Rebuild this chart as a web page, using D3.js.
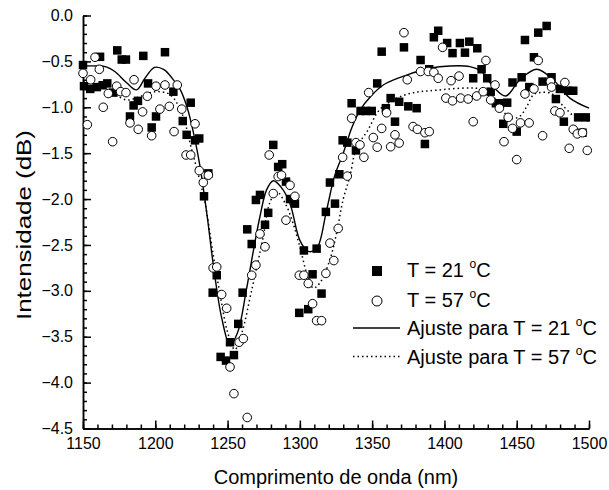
<!DOCTYPE html>
<html>
<head>
<meta charset="utf-8">
<script src="https://cdn.jsdelivr.net/npm/d3@7"></script>
<style>
  body { margin: 0; background: #fff; }
  svg { display: block; font-family: "Liberation Sans", Arial, sans-serif; }
  .axis path, .axis line { stroke: #000; stroke-width: 1.5; }
  .axis text { font-size: 16px; fill: #000; }
</style>
</head>
<body>
<svg id="chart" width="609" height="490"></svg>
<script>
// measured points, T = 21 C (squares)
const wave21 = [1150, 1150.7, 1155, 1159.5, 1161.8, 1163.6, 1166.8, 1171, 1173.7, 1176.8, 1179.7, 1182.5, 1185, 1188, 1191.7, 1195, 1197.5, 1200.5, 1206.7, 1212.5, 1219, 1221.7, 1224.5, 1227.5, 1230.4, 1233.7, 1236.7, 1239.7, 1242.5, 1245.2, 1248.9, 1251.7, 1254.4, 1257.4, 1260.4, 1263.6, 1266.7, 1269.6, 1272.4, 1275.9, 1278.1, 1281.6, 1285, 1287.8, 1290.4, 1293.2, 1296.6, 1299.6, 1302.8, 1305.8, 1308.8, 1311.6, 1315, 1318, 1320.8, 1324.3, 1327.3, 1329.6, 1332.8, 1335.8, 1338.8, 1342, 1345.7, 1349.7, 1353.5, 1356.6, 1359.5, 1362.8, 1365.8, 1368.7, 1372, 1375, 1380.8, 1383.5, 1386.5, 1389.5, 1392.7, 1395.7, 1401.9, 1405.6, 1410.7, 1414.2, 1417.2, 1419.9, 1422.7, 1425.7, 1429.6, 1432, 1435.6, 1438.4, 1440.7, 1443.4, 1447.1, 1450, 1453.4, 1455.7, 1458.7, 1461.9, 1464.9, 1467.9, 1470.7, 1474.1, 1477.1, 1479.9, 1482.6, 1485.6, 1489.1, 1492.5, 1495.5, 1497.8];
const int21 = [-0.54, -0.77, -0.80, -0.78, -0.45, -0.76, -0.74, -0.84, -0.38, -0.48, -0.48, -1.10, -0.98, -0.93, -0.44, -0.74, -1.22, -1.10, -0.40, -0.83, -1.15, -1.30, -0.95, -1.36, -1.34, -1.97, -1.72, -3.02, -2.83, -3.72, -3.76, -3.56, -3.70, -3.36, -3.02, -2.33, -2.49, -2.01, -1.955, -2.28, -2.15, -1.41, -1.65, -1.62, -1.81, -2.0, -2.05, -3.24, -2.56, -3.20, -2.82, -2.54, -3.03, -2.14, -1.82, -2.05, -1.73, -1.36, -1.385, -0.956, -1.47, -1.04, -1.04, -1.04, -0.74, -0.394, -1.01, -0.90, -1.157, -0.94, -0.347, -0.99, -1.01, -0.485, -1.40, -0.586, -0.237, -0.166, -0.30, -0.41, -0.30, -0.405, -0.285, -0.684, -0.357, -0.586, -0.684, -0.83, -0.956, -0.956, -1.18, -0.95, -0.73, -1.265, -0.673, -0.267, -0.78, -0.455, -0.187, -0.72, -0.114, -0.673, -0.91, -0.80, -1.157, -0.82, -0.82, -1.11, -1.277, -1.11];

// measured points, T = 57 C (circles)
const wave57 = [1150, 1153, 1155.3, 1158.3, 1161.3, 1164, 1167.5, 1170.5, 1173.3, 1176, 1179.7, 1182.5, 1185.3, 1188.2, 1191.2, 1194.5, 1197.5, 1200.5, 1203.2, 1206.7, 1209.7, 1213, 1215.2, 1218.3, 1221.3, 1224.5, 1227.5, 1230.4, 1233.2, 1236.7, 1240, 1242.5, 1245.9, 1249.4, 1251.7, 1254.4, 1258, 1260.9, 1263.6, 1266.7, 1269.6, 1272.4, 1275.9, 1278.8, 1281.6, 1285, 1287.3, 1290.4, 1293.2, 1296.6, 1299.6, 1302.8, 1305.8, 1308.8, 1311.6, 1315, 1318, 1320.8, 1323.5, 1326.5, 1329.6, 1332.8, 1335.8, 1338.8, 1341.6, 1344.3, 1347.6, 1350.8, 1353.5, 1356.6, 1360, 1362.8, 1365.8, 1368.7, 1372, 1374.3, 1378.3, 1381.3, 1383.5, 1386.5, 1388.8, 1389.5, 1392.7, 1395.7, 1398.7, 1401, 1404.6, 1405.6, 1410.1, 1411.2, 1416.4, 1419.9, 1422.3, 1426.8, 1428.7, 1432, 1435, 1438, 1441.2, 1444.1, 1447.1, 1450, 1452.6, 1455.7, 1458.6, 1461.9, 1464.9, 1467.9, 1473.3, 1474.1, 1476.4, 1479.9, 1483.3, 1486.3, 1489.1, 1491.9, 1495.5, 1498.8];
const int57 = [-0.63, -1.19, -0.70, -0.455, -0.586, -1.0, -0.85, -1.375, -0.77, -0.83, -0.84, -1.17, -0.70, -1.24, -1.05, -0.88, -1.31, -0.77, -1.02, -0.757, -0.99, -1.265, -0.757, -1.02, -1.52, -1.52, -1.18, -1.69, -1.82, -1.74, -2.75, -2.74, -3.04, -3.19, -3.83, -4.12, -3.56, -3.52, -4.38, -2.83, -2.72, -2.38, -2.52, -1.52, -1.94, -1.755, -1.74, -2.23, -1.85, -1.97, -2.83, -2.83, -2.92, -3.14, -3.325, -3.325, -2.81, -2.48, -2.67, -2.32, -1.545, -1.75, -1.12, -1.385, -1.41, -1.545, -0.84, -1.33, -1.435, -1.23, -1.06, -1.43, -1.30, -1.39, -0.187, -0.70, -1.21, -1.24, -0.61, -1.277, -0.61, -1.265, -0.62, -0.684, -0.347, -0.90, -0.71, -0.93, -0.66, -0.90, -0.91, -1.157, -0.877, -0.83, -0.49, -0.92, -0.757, -1.01, -1.375, -1.11, -1.23, -1.57, -1.17, -0.855, -1.17, -0.80, -0.49, -1.31, -0.72, -0.78, -1.04, -1.06, -0.73, -1.447, -1.24, -1.29, -1.277, -1.47];

// fitted curves
const fitWave21 = [1150, 1160, 1166, 1172, 1180, 1187, 1193, 1199.5, 1206, 1212, 1217, 1222, 1227, 1231, 1236, 1240, 1246, 1251.7, 1257, 1263, 1268, 1272.4, 1277, 1281.6, 1287, 1293.2, 1300, 1305.8, 1311.6, 1318.5, 1324, 1330, 1336, 1341.6, 1348.5, 1357.7, 1373.8, 1390, 1403.8, 1417.6, 1425.7, 1433.7, 1442.5, 1452.2, 1463.8, 1475.2, 1486.8, 1500];
const fitInt21 = [-0.55, -0.55, -0.56, -0.61, -0.73, -0.81, -0.68, -0.565, -0.59, -0.69, -0.80, -1.0, -1.32, -1.65, -2.2, -2.70, -3.30, -3.59, -3.45, -2.99, -2.55, -2.19, -1.90, -1.80, -1.87, -2.05, -2.45, -2.57, -2.54, -2.12, -1.75, -1.50, -1.22, -1.03, -0.89, -0.757, -0.65, -0.575, -0.55, -0.557, -0.61, -0.775, -0.877, -0.70, -0.586, -0.70, -0.90, -1.01];
const fitWave57 = [1150, 1165, 1180, 1190, 1200, 1210, 1218, 1225, 1230, 1234.4, 1240, 1244.7, 1250, 1255, 1260, 1266.7, 1274.7, 1279, 1284, 1290, 1295, 1300, 1305, 1309.3, 1314, 1320.8, 1325.4, 1330, 1334.6, 1339, 1347, 1355, 1364.6, 1376, 1390, 1430, 1438, 1446, 1452, 1457, 1461.4, 1466, 1474, 1482.4, 1491.6, 1500];
const fitInt57 = [-0.72, -0.78, -0.92, -0.88, -0.83, -0.86, -1.05, -1.45, -1.75, -2.04, -2.6, -3.03, -3.45, -3.64, -3.45, -2.99, -2.41, -2.05, -1.92, -2.05, -2.25, -2.52, -2.82, -2.97, -2.91, -2.66, -2.37, -2.0, -1.755, -1.45, -1.25, -1.03, -0.92, -0.85, -0.82, -0.82, -0.99, -1.12, -1.10, -0.99, -0.866, -0.84, -0.85, -0.99, -1.12, -1.15];

const legendLabels = ['T = 21 ', 'T = 57 ', 'Ajuste para T = 21 ', 'Ajuste para T = 57 '];

const svg = d3.select('#chart');
const plotLeft = 83, plotRight = 589, plotTop = 15.5, plotBottom = 428.5;

const x = d3.scaleLinear().domain([1150, 1500]).range([plotLeft, plotRight]);
const y = d3.scaleLinear().domain([-4.5, 0]).range([plotBottom, plotTop]);

// minor ticks first, majors on top
svg.append('g').attr('class', 'axis')
  .attr('transform', `translate(0,${plotBottom})`)
  .call(d3.axisBottom(x).tickValues(d3.range(1150, 1501, 10)).tickSize(-4).tickSizeOuter(0).tickFormat(''));
svg.append('g').attr('class', 'axis')
  .attr('transform', `translate(0,${plotBottom})`)
  .call(d3.axisBottom(x).tickValues(d3.range(1150, 1501, 50)).tickSize(-8).tickSizeOuter(0).tickPadding(9).tickFormat(d3.format('d')));

svg.append('g').attr('class', 'axis')
  .attr('transform', `translate(${plotLeft},0)`)
  .call(d3.axisLeft(y).tickValues(d3.range(-45, 1, 1).map(d => d / 10)).tickSize(-4).tickSizeOuter(0).tickFormat(''));
svg.append('g').attr('class', 'axis')
  .attr('transform', `translate(${plotLeft},0)`)
  .call(d3.axisLeft(y).tickValues(d3.range(-9, 1, 1).map(d => d / 2)).tickSize(-8).tickSizeOuter(0).tickPadding(10).tickFormat(d3.format('.1f')));

// fits
const line = (xs, ys) => d3.line().curve(d3.curveCatmullRom.alpha(0.5))
  .x((d, i) => x(xs[i])).y((d, i) => y(ys[i]))(xs);

svg.append('path').attr('d', line(fitWave57, fitInt57))
  .attr('fill', 'none').attr('stroke', '#000').attr('stroke-width', 1.5)
  .attr('stroke-dasharray', '1.5,3');
svg.append('path').attr('d', line(fitWave21, fitInt21))
  .attr('fill', 'none').attr('stroke', '#000').attr('stroke-width', 1.4);

// scatter
const sq = 8.5;
svg.append('g').selectAll('rect').data(wave21).join('rect')
  .attr('x', (d) => x(d) - sq / 2)
  .attr('y', (d, i) => y(int21[i]) - sq / 2)
  .attr('width', sq).attr('height', sq).attr('fill', '#000');

svg.append('g').selectAll('circle').data(wave57).join('circle')
  .attr('cx', (d) => x(d))
  .attr('cy', (d, i) => y(int57[i]))
  .attr('r', 4.3).attr('fill', '#fff').attr('stroke', '#000').attr('stroke-width', 1);

// axis titles
svg.append('text').attr('x', (plotLeft + plotRight) / 2).attr('y', 484)
  .attr('text-anchor', 'middle').attr('font-size', 20).text('Comprimento de onda (nm)');
// the y title in the figure is drawn stretched along its length
svg.append('text').attr('transform', `translate(31,225) rotate(-90)`)
  .attr('text-anchor', 'middle').attr('font-size', 20)
  .attr('textLength', 190).attr('lengthAdjust', 'spacingAndGlyphs')
  .text('Intensidade (dB)');

// legend
const legend = svg.append('g');
const rowY = [277, 306.5, 335, 363.5];
legend.append('rect').attr('x', 372).attr('y', rowY[0] - 11).attr('width', 10).attr('height', 10).attr('fill', '#000');
legend.append('circle').attr('cx', 377).attr('cy', rowY[1] - 5.5).attr('r', 5)
  .attr('fill', '#fff').attr('stroke', '#000').attr('stroke-width', 1);
legend.append('line').attr('x1', 353).attr('x2', 400).attr('y1', rowY[2] - 7).attr('y2', rowY[2] - 7)
  .attr('stroke', '#000').attr('stroke-width', 1.4);
legend.append('line').attr('x1', 353).attr('x2', 400).attr('y1', rowY[3] - 7).attr('y2', rowY[3] - 7)
  .attr('stroke', '#000').attr('stroke-width', 1.5).attr('stroke-dasharray', '1.5,3');

legendLabels.forEach((lab, i) => {
  const t = legend.append('text').attr('x', 407).attr('y', rowY[i]).attr('font-size', 20);
  t.append('tspan').text(lab);
  t.append('tspan').attr('font-size', 12).attr('dy', -9).text('o');
  t.append('tspan').attr('dy', 9).text('C');
});
</script>
</body>
</html>
